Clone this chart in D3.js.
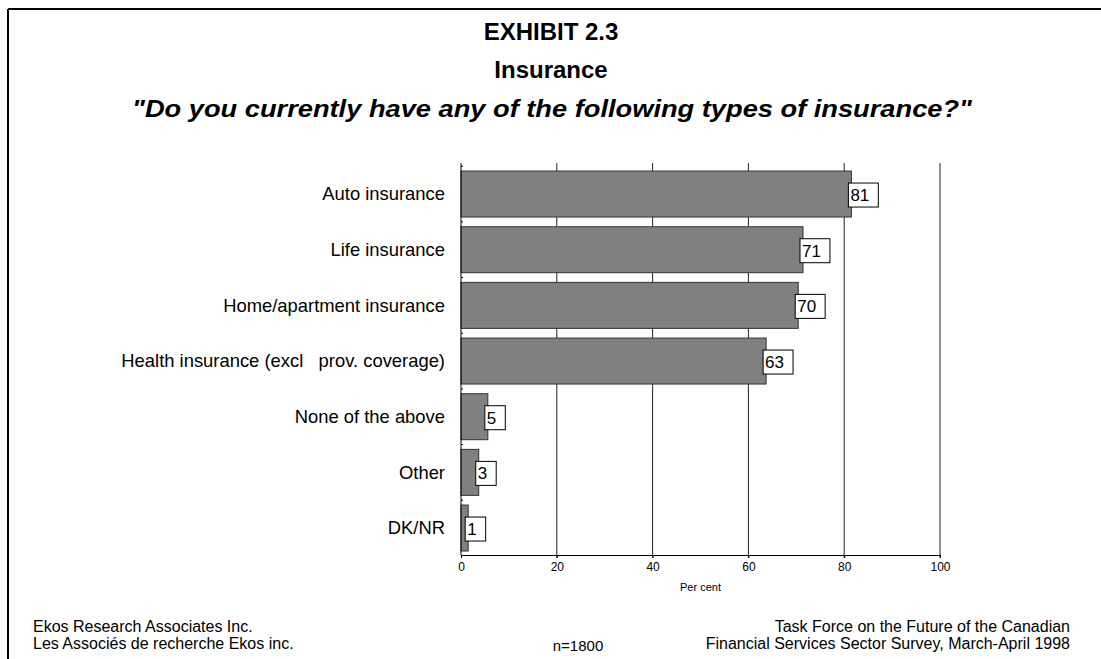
<!DOCTYPE html>
<html>
<head>
<meta charset="utf-8">
<script src="https://cdn.jsdelivr.net/npm/d3@7"></script>
<style>
  body { margin: 0; background: #fff; }
  svg { display: block; font-family: Arial, "Liberation Sans", sans-serif; }
</style>
</head>
<body>
<svg width="1101" height="659"></svg>
<script>
// chart data
let categories = ["Auto insurance", "Life insurance", "Home/apartment insurance",
  "Health insurance (excl   prov. coverage)", "None of the above", "Other", "DK/NR"];
let values = [81.5, 71.4, 70.4, 63.7, 5.6, 3.7, 1.5];
let valueLabels = ["81", "71", "70", "63", "5", "3", "1"];
let xTicks = [0, 20, 40, 60, 80, 100];

let svg = d3.select('svg');
let margin = { top: 163, left: 461, right: 161, bottom: 104 };
let width = 1101, height = 659;
let innerWidth = width - margin.left - margin.right;
let innerHeight = height - margin.top - margin.bottom;

// frame
svg.append('line').attr('x1', 8).attr('x2', 1101).attr('y1', 9).attr('y2', 9)
  .style('stroke', '#000').style('stroke-width', 2);
svg.append('line').attr('x1', 8).attr('x2', 8).attr('y1', 9).attr('y2', 659)
  .style('stroke', '#000').style('stroke-width', 2);

// titles
svg.append('text').attr('x', 551).attr('y', 40).attr('text-anchor', 'middle')
  .style('font-weight', 'bold').style('font-size', '24px').text('EXHIBIT 2.3');
svg.append('text').attr('x', 551).attr('y', 78).attr('text-anchor', 'middle')
  .style('font-weight', 'bold').style('font-size', '24px').text('Insurance');
svg.append('text').attr('x', 552).attr('y', 117).attr('text-anchor', 'middle')
  .attr('textLength', 840).attr('lengthAdjust', 'spacingAndGlyphs')
  .style('font-weight', 'bold').style('font-style', 'italic').style('font-size', '23px')
  .text('"Do you currently have any of the following types of insurance?"');

const xScale = d3.scaleLinear().domain([0, 100]).range([0, innerWidth]);
const yScale = d3.scaleBand().domain(categories).range([0, innerHeight])
  .paddingInner(0.174).paddingOuter(0.108).align(0.67);

const g = svg.append('g').attr('transform', 'translate(' + margin.left + ',' + margin.top + ')');

// grid lines
g.selectAll('.grid').data(xTicks.slice(1)).enter().append('line')
  .attr('x1', d => xScale(d)).attr('x2', d => xScale(d))
  .attr('y1', 0).attr('y2', innerHeight + 3)
  .style('stroke', '#222').style('stroke-width', 1);

// bars
g.selectAll('.bar').data(values).enter().append('rect')
  .attr('x', 0)
  .attr('y', (d, i) => yScale(categories[i]))
  .attr('width', d => xScale(d))
  .attr('height', yScale.bandwidth())
  .style('fill', '#808080').style('stroke', '#333').style('stroke-width', 1);

// x axis
const xAxis = d3.axisBottom(xScale).tickValues(xTicks).tickSize(3).tickPadding(4);
const xa = g.append('g').attr('transform', 'translate(0,' + innerHeight + ')').call(xAxis);
xa.select('.domain').style('stroke', '#000');
xa.selectAll('text').style('font-size', '12px').style('font-family', 'Arial, "Liberation Sans", sans-serif');

// y axis line with small ticks
g.append('line').attr('x1', 0).attr('x2', 0).attr('y1', 0).attr('y2', innerHeight)
  .style('stroke', '#000');
g.selectAll('.ytick').data(categories).enter().append('line')
  .attr('x1', 0).attr('x2', 2)
  .attr('y1', d => yScale(d) - yScale.step() * yScale.paddingInner() / 2)
  .attr('y2', d => yScale(d) - yScale.step() * yScale.paddingInner() / 2)
  .style('stroke', '#000');

// category labels
g.selectAll('.cat').data(categories).enter().append('text')
  .attr('x', -16)
  .attr('y', d => yScale(d) + yScale.bandwidth() / 2)
  .attr('dy', '0.35em')
  .attr('text-anchor', 'end')
  .style('font-size', '18.4px')
  .style('white-space', 'pre')
  .text(d => d);

// value labels in boxes
const lab = g.selectAll('.lab').data(values).enter().append('g')
  .attr('transform', (d, i) => 'translate(' + (xScale(d) - 3) + ',' + (yScale(categories[i]) + yScale.bandwidth() / 2 - 11) + ')');
lab.append('rect').attr('class', 'box')
  .style('fill', '#fff').style('stroke', '#000').style('stroke-width', 1);
lab.append('text')
  .attr('x', 2).attr('y', 12).attr('dy', '0.35em')
  .style('font-size', '17px')
  .text((d, i) => valueLabels[i]);
lab.each(function () {
  const t = d3.select(this).select('text').node().getComputedTextLength();
  d3.select(this).select('rect').attr('width', t + 11).attr('height', 24);
});

// axis title
g.append('text').attr('x', xScale(50)).attr('y', innerHeight + 36)
  .attr('text-anchor', 'middle').style('font-size', '11px').text('Per cent');

// footer
const foot = [
  { x: 33, y: 632, a: 'start', t: 'Ekos Research Associates Inc.' },
  { x: 33, y: 649, a: 'start', t: 'Les Associés de recherche Ekos inc.' },
  { x: 1070, y: 632, a: 'end', t: 'Task Force on the Future of the Canadian' },
  { x: 1070, y: 649, a: 'end', t: 'Financial Services Sector Survey, March-April 1998' }
];
svg.selectAll('.foot').data(foot).enter().append('text')
  .attr('x', d => d.x).attr('y', d => d.y).attr('text-anchor', d => d.a)
  .style('font-size', '16px').text(d => d.t);
svg.append('text').attr('x', 578).attr('y', 651).attr('text-anchor', 'middle')
  .style('font-size', '15px').text('n=1800');
</script>
</body>
</html>
